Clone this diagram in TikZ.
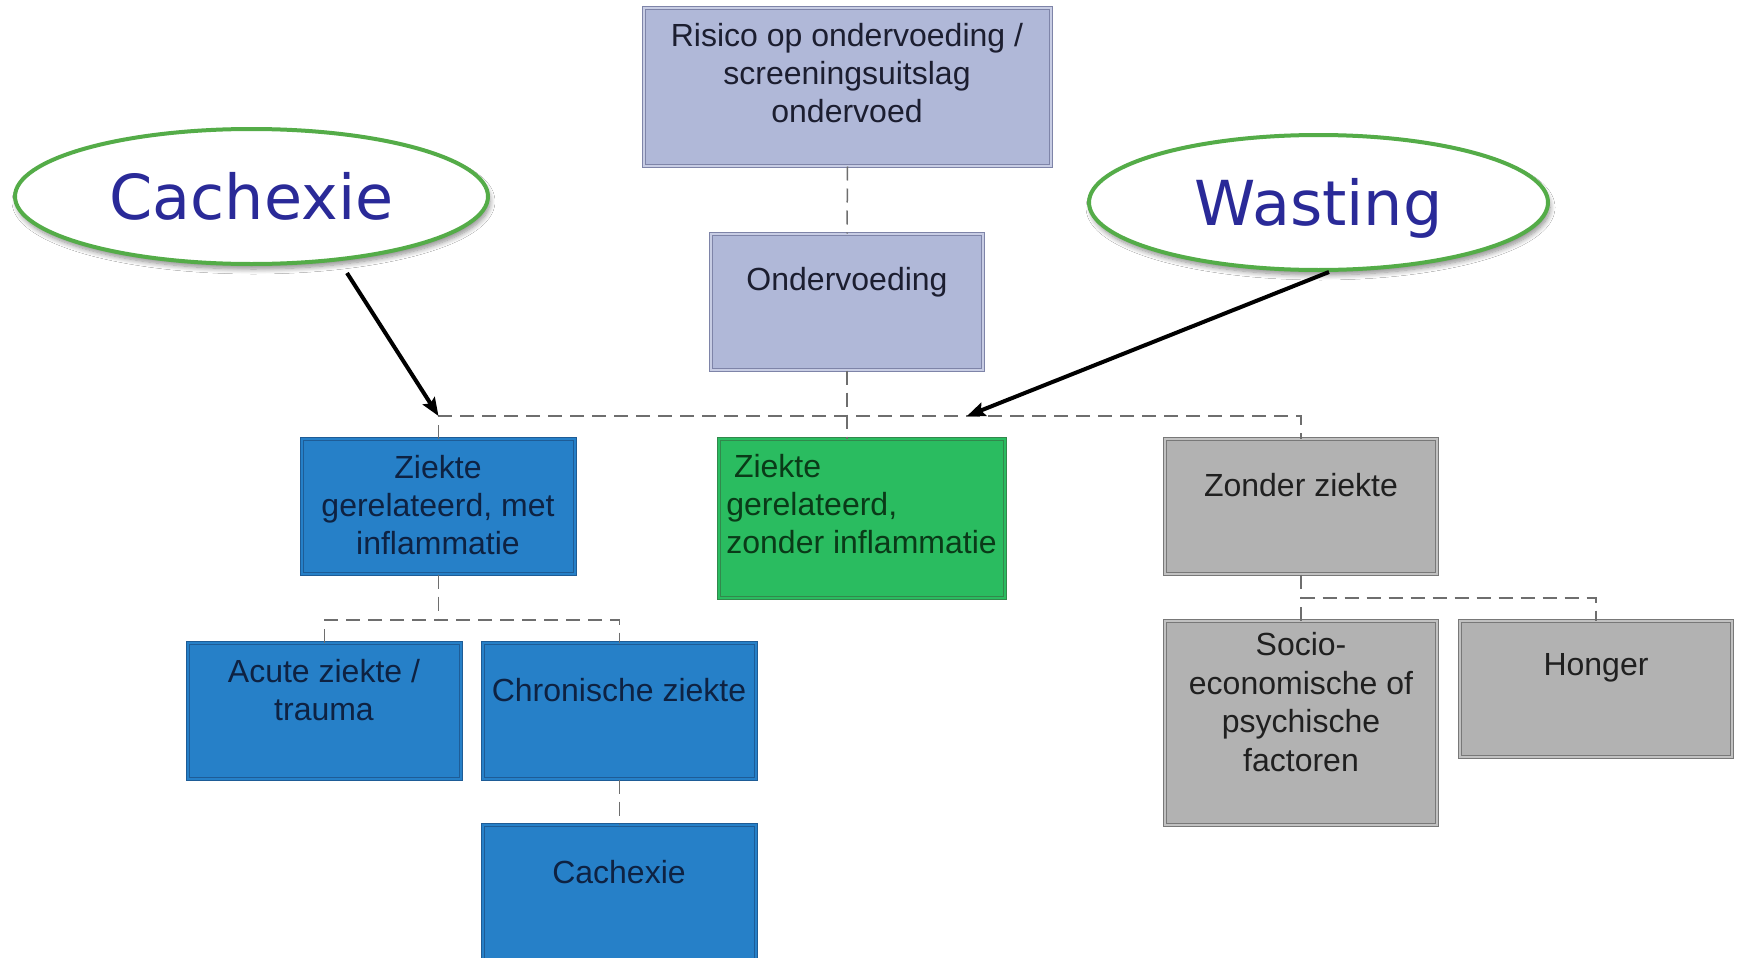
\documentclass[tikz,border=0pt]{standalone}
\usepackage{fontspec}
\setmainfont{Liberation Sans}
\newfontfamily\calloutfont{DejaVu Sans}
\usetikzlibrary{arrows.meta,shapes.geometric,shadows.blur}

\definecolor{lavFill}{RGB}{176,184,216}
\definecolor{lavLine}{RGB}{126,132,168}
\definecolor{lavText}{RGB}{28,30,48}
\definecolor{blueFill}{RGB}{38,128,200}
\definecolor{blueLine}{RGB}{30,92,150}
\definecolor{blueText}{RGB}{14,34,66}
\definecolor{grnFill}{RGB}{42,188,96}
\definecolor{grnLine}{RGB}{50,136,76}
\definecolor{grnText}{RGB}{10,58,24}
\definecolor{grayFill}{RGB}{178,178,178}
\definecolor{grayLine}{RGB}{120,120,120}
\definecolor{grayText}{RGB}{32,32,32}
\definecolor{linkGray}{RGB}{110,110,110}
\definecolor{ovalGreen}{RGB}{84,172,72}
\definecolor{ovalText}{RGB}{42,42,152}

\tikzset{
  box/.style={rectangle, inner sep=0pt, line width=0.5pt, double distance=1.4pt},
  lavbox/.style={box, draw=lavLine, double=lavFill!70!white, fill=lavFill},
  bluebox/.style={box, draw=blueLine, double=blueFill, fill=blueFill},
  grnbox/.style={box, draw=grnLine, double=grnFill, fill=grnFill},
  graybox/.style={box, draw=grayLine, double=grayFill!80!white, fill=grayFill},
  txt/.style={inner sep=0pt, align=center, font=\fontsize{16pt}{19.2pt}\selectfont},
  link/.style={draw=linkGray, line width=0.75pt, dash pattern=on 7pt off 4pt},
  oval/.style={ellipse, inner sep=0pt, draw=ovalGreen, line width=2pt, fill=white,
    text=ovalText, font=\calloutfont\fontsize{31pt}{36pt}\selectfont,
    text height=22.5pt, text depth=0pt,
    blur shadow={shadow xshift=1pt, shadow yshift=-2.5pt, shadow blur radius=2.5pt,
      shadow blur steps=8, shadow opacity=45}},
  callarrow/.style={line width=2pt, -{Stealth[length=9pt,width=7pt,inset=1.5pt]}}
}

\begin{document}
\begin{tikzpicture}[x=0.5pt, y=-0.5pt]
\clip (0,0) rectangle (1737,958);
\fill[white] (0,0) rectangle (1737,958);

% boxes
\node[lavbox, minimum width=203.5pt, minimum height=79pt] (risk) at (847.5,87) {};
\node[lavbox, minimum width=136pt, minimum height=68pt] (under) at (847,302) {};
\node[bluebox, minimum width=136.5pt, minimum height=67.5pt] (zmet) at (438.5,506.5) {};
\node[grnbox, minimum width=143pt, minimum height=79.5pt] (grn) at (862,518.5) {};
\node[graybox, minimum width=136pt, minimum height=67.5pt] (geen) at (1301,506.5) {};
\node[bluebox, minimum width=136.5pt, minimum height=68pt] (acute) at (324.5,711) {};
\node[bluebox, minimum width=136.5pt, minimum height=68pt] (chron) at (619.5,711) {};
\node[bluebox, minimum width=136.5pt, minimum height=72.5pt] (cachb) at (619.5,897.5) {};
\node[graybox, minimum width=136pt, minimum height=102pt] (socio) at (1301,723) {};
\node[graybox, minimum width=136pt, minimum height=68pt] (honger) at (1596,689) {};

% box texts
\node[txt, text=lavText] (riskT) at (847,73) {Risico op ondervoeding /\\screeningsuitslag\\ondervoed};
\node[txt, text=lavText] (underT) at (847,282) {Ondervoeding};
\node[txt, text=blueText] (zmetT) at (438,505) {Ziekte\\gerelateerd, met\\inflammatie};
\node[txt, align=left, anchor=west, text=grnText] (grnT) at (726,504) {\hspace*{3.8pt}Ziekte\\gerelateerd,\\zonder inflammatie};
\node[txt, text=grayText] (geenT) at (1301,485) {Zonder ziekte};
\node[txt, text=blueText] (acuteT) at (324,690) {Acute ziekte /\\trauma};
\node[txt, text=blueText] (chronT) at (619,690) {Chronische ziekte};
\node[txt, text=blueText] (cachbT) at (619,872) {Cachexie};
\node[txt, text=grayText] (socioT) at (1301,702) {Socio-\\economische of\\psychische\\factoren};
\node[txt, text=grayText] (hongerT) at (1596,668) {Honger};

% tree connectors
\coordinate (bar) at (847,416);
\coordinate (bar2) at (438,620);
\coordinate (bar3) at (1301,598);
\draw[link] (risk.south) -- (under.north);
\draw[link] (under.south) -- (under.south |- grn.north);
\draw[link] (zmet.north) -- (zmet.north |- bar) -- (geen.north |- bar) -- (geen.north);
\draw[link] (zmet.south) -- (zmet.south |- bar2);
\draw[link] (acute.north) -- (acute.north |- bar2) -- (chron.north |- bar2) -- (chron.north);
\draw[link] (chron.south) -- (cachb.north);
\draw[link] (geen.south) -- (geen.south |- bar3);
\draw[link] (socio.north) -- (socio.north |- bar3) -- (honger.north |- bar3) -- (honger.north);

% callouts
\node[oval, minimum width=236.5pt, minimum height=67.5pt] (cachOval) at (251.5,196.5) {Cachexie};
\node[oval, minimum width=229.5pt, minimum height=67.5pt] (wastOval) at (1318.5,202.5) {Wasting};

\coordinate (cTail) at (347,273);
\coordinate (jL) at (zmet.north |- bar);
\coordinate (wTail) at (1329,272);
\coordinate (wHead) at (967,416);
\draw[callarrow] (cTail) -- (jL);
\draw[callarrow] (wTail) -- (wHead);
\end{tikzpicture}
\end{document}
